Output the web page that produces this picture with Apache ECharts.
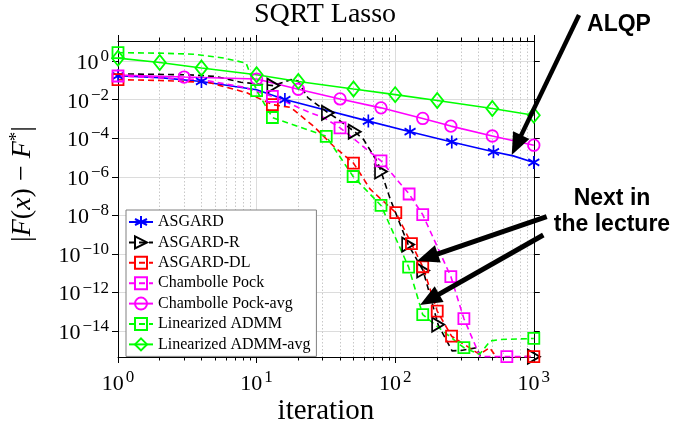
<!DOCTYPE html>
<html>
<head>
<meta charset="utf-8">
<script src="https://cdn.jsdelivr.net/npm/echarts@6/dist/echarts.min.js"></script>
<style>html,body{margin:0;padding:0;background:#fff}#c{width:674px;height:431px}</style>
</head>
<body>
<div id="c"></div>
<script>
// ---------- data ----------
const xRange = [1, 1000];
const yRange = [4.6e-16, 11.1];
const xMinorTicks = [2,3,4,5,6,7,8,9,20,30,40,50,60,70,80,90,200,300,400,500,600,700,800,900];
const yLabelExps = [-14,-12,-10,-8,-6,-4,-2,0];
const seriesNames = ['ASGARD','ASGARD-R','ASGARD-DL','Chambolle Pock','Chambolle Pock-avg','Linearized ADMM','Linearized ADMM-avg'];

// marker points and extra curve points for each method: [iteration, |F(x)-F*|]
const asgardMarks = [[1,0.175],[4,0.089],[16,0.0102],[64,7.8e-4],[128,2.2e-4],[256,6.5e-5],[512,2e-5],[1000,5.6e-6]];
const asgardLine  = [[2,0.14],[10,0.033],[710,1.23e-5]];

const asgardRMarks = [[13.2,0.054],[32.7,2.1e-3],[51,2.2e-4],[79,1.9e-6],[124,3.1e-10],[159,1.4e-11],[204,2.2e-14],[1000,4.8e-16]];
const asgardRLine  = [[1,0.22],[3.2,0.197],[5.1,0.16],[7.7,0.081],[17.6,0.11],[19.8,0.097],[23.4,0.013],[37,1.2e-3],[59,8.9e-5],[74.6,5.9e-6],[92,7.2e-8],[257,9.6e-16],[300,1e-15],[388,1.4e-15],[450,1e-16],[950,1e-16]];

const asgardDLMarks = [[1,0.11],[13,5.6e-3],[50,5.2e-6],[101,1.4e-8],[131,3.5e-10],[158,2.2e-11],[201,1.1e-13],[255,5.5e-15],[1000,4.8e-16]];
const asgardDLLine  = [[2,0.1],[4.5,0.079],[8.5,0.023],[17.6,4e-3],[25.8,4.2e-4],[35.8,4e-5],[66,2.3e-7],[406,6.3e-16],[480,1.4e-15],[560,3e-16],[850,4.8e-16]];

const cpMarks = [[1,0.17],[13,0.015],[40,3.5e-4],[79,6.8e-6],[126,1.3e-7],[158,1.1e-8],[252,6.8e-12],[313,4.5e-14],[639,4.8e-16]];
const cpLine  = [[4,0.11],[8,0.045],[18,5.6e-3],[24,2.2e-3],[30.5,1.2e-3],[410,4.8e-16],[1000,4.8e-16]];

const cpAvgMarks = [[3,0.15],[10,0.118],[20,0.035],[40,0.011],[79,3.8e-3],[158,1.07e-3],[252,4.3e-4],[502,1.32e-4],[1000,4.4e-5]];
const cpAvgLine  = [[1,0.19]];

const ladmmMarks = [[1,2.77],[10,0.030],[13,1.2e-3],[31.8,1.27e-4],[49.7,1.05e-6],[79,3.3e-8],[125,2.1e-11],[158,7.2e-14],[313,1.4e-15],[1000,4.2e-15]];
const ladmmLine  = [[2,2.6],[3.5,2.3],[5.8,1.45],[8.4,0.79],[406,6.3e-16],[484,3.1e-15],[571,3.7e-15]];

const ladmmAvgMarks = [[1,1.43],[2,0.85],[4,0.44],[10,0.197],[20,0.089],[50,0.036],[100,0.0184],[201,9.1e-3],[502,3.5e-3],[1000,1.58e-3]];
const ladmmAvgLine  = [];

// ---------- styling ----------
const serif = "'Liberation Serif','Times New Roman',serif";
const sans = "'Liberation Sans',Arial,sans-serif";
const SYM = {
  asterisk: 'path://M0,-10L0,10M-8.66,-5L8.66,5M-8.66,5L8.66,-5',
  triRight: 'path://M0,0L10,6L0,12Z'
};

function build(name, color, dashed, symbol, size, marks, line) {
  const pts = marks.map(p => ({p, m: true})).concat(line.map(p => ({p, m: false})));
  pts.sort((a, b) => a.p[0] - b.p[0]);
  return {
    type: 'line', name,
    data: pts.map(o => o.m ? {value: o.p} : {value: o.p, symbol: 'none'}),
    symbol, symbolSize: size, showAllSymbol: true, clip: true,
    lineStyle: {color, width: 1.6, type: dashed ? [6, 4] : 'solid'},
    itemStyle: {color: 'rgba(255,255,255,0)', borderColor: color, borderWidth: 1.8},
    emphasis: {disabled: true}, silent: true, animation: false
  };
}

const series = [
  build(seriesNames[0], '#0000ff', false, SYM.asterisk, [11, 13], asgardMarks, asgardLine),
  build(seriesNames[1], '#000000', true, SYM.triRight, [12, 14], asgardRMarks, asgardRLine),
  build(seriesNames[2], '#ff0000', true, 'rect', 11, asgardDLMarks, asgardDLLine),
  build(seriesNames[3], '#ff00ff', true, 'rect', 11, cpMarks, cpLine),
  build(seriesNames[4], '#ff00ff', false, 'circle', 11.5, cpAvgMarks, cpAvgLine),
  build(seriesNames[5], '#00ff00', true, 'rect', 11, ladmmMarks, ladmmLine),
  build(seriesNames[6], '#00ff00', false, 'diamond', [12, 15], ladmmAvgMarks, ladmmAvgLine)
];

const supRich = {
  b: {fontFamily: serif, fontSize: 22, color: '#000', lineHeight: 26, verticalAlign: 'bottom'},
  s: {fontFamily: serif, fontSize: 17, color: '#000', verticalAlign: 'bottom', padding: [0, 0, 9, 2]}
};
const expText = e => '{b|10}{s|' + (e < 0 ? '\u2212' + (-e) : e) + '}';
const lx = [Math.log10(xRange[0]), Math.log10(xRange[1])];
const ly = [Math.log10(yRange[0]), Math.log10(yRange[1])];
const minorLog = xMinorTicks.map(v => Math.log10(v));
const lineBlack = {show: true, onZero: false, lineStyle: {color: '#000', width: 1}};

function arrow(x1, y1, x2, y2, w, hl, hw) {
  const dx = x2 - x1, dy = y2 - y1, L = Math.hypot(dx, dy), ux = dx / L, uy = dy / L;
  const bx = x2 - ux * hl, by = y2 - uy * hl, px = -uy, py = ux;
  return [
    {type: 'line', z: 100, shape: {x1, y1, x2: bx + ux * 3, y2: by + uy * 3}, style: {stroke: '#000', lineWidth: w}},
    {type: 'polygon', z: 100, shape: {points: [[x2, y2], [bx + px * hw, by + py * hw], [bx - px * hw, by - py * hw]]}, style: {fill: '#000'}}
  ];
}

const chart = echarts.init(document.getElementById('c'), null, {renderer: 'canvas'});
chart.setOption({
  animation: false,
  backgroundColor: '#fff',
  title: {
    text: 'SQRT Lasso', left: 325, top: 1, textAlign: 'center', padding: 0,
    textStyle: {fontFamily: serif, fontSize: 28, fontWeight: 'normal', color: '#000'}
  },
  grid: {left: 116.6, top: 41, width: 417.2, height: 318.3, show: false},
  legend: {
    orient: 'vertical', left: 126, top: 210, itemWidth: 24, itemHeight: 15, itemGap: 4.4,
    padding: [4, 6, 4, 2], backgroundColor: '#fff', borderColor: '#808080', borderWidth: 1,
    selectedMode: false, data: seriesNames,
    textStyle: {fontFamily: serif, fontSize: 16, color: '#000', lineHeight: 15}
  },
  xAxis: [
    { type: 'log', logBase: 10, min: xRange[0], max: xRange[1], position: 'bottom',
      name: 'iteration', nameLocation: 'middle', nameGap: 40, nameMoveOverlap: false,
      nameTextStyle: {fontFamily: serif, fontSize: 29, color: '#000'},
      axisLine: lineBlack, axisTick: {show: true, inside: false, length: 6, lineStyle: {color: '#000'}},
      axisLabel: {margin: 12, formatter: v => expText(Math.round(Math.log10(v))), rich: supRich},
      splitLine: {show: true, lineStyle: {color: '#dcdcdc', width: 1}}, minorTick: {show: false}, minorSplitLine: {show: false} },
    { type: 'log', logBase: 10, min: xRange[0], max: xRange[1], position: 'top',
      axisLine: lineBlack, axisTick: {show: true, inside: false, length: 6, lineStyle: {color: '#000'}},
      axisLabel: {show: false}, splitLine: {show: false} },
    { type: 'value', min: lx[0], max: lx[1], position: 'bottom',
      axisLine: {show: false, onZero: false},
      axisTick: {show: true, inside: false, length: 3.5, customValues: minorLog, lineStyle: {color: '#000'}},
      axisLabel: {show: false, customValues: minorLog},
      splitLine: {show: true, lineStyle: {color: '#c8c8c8', width: 1, type: [1.5, 2]}} },
    { type: 'value', min: lx[0], max: lx[1], position: 'top',
      axisLine: {show: false, onZero: false},
      axisTick: {show: true, inside: false, length: 3.5, customValues: minorLog, lineStyle: {color: '#000'}},
      axisLabel: {show: false, customValues: minorLog}, splitLine: {show: false} }
  ],
  yAxis: [
    { type: 'log', logBase: 10, min: yRange[0], max: yRange[1], show: false },
    { type: 'value', min: ly[0], max: ly[1], position: 'left',
      name: '{t||}{i|F}{t|(}{i|x}{t|) \u2212 }{i|F}{s|*}{t||}', nameLocation: 'middle', nameGap: 80,
      nameRotate: 90, nameMoveOverlap: false,
      nameTextStyle: {padding: [0, 0, 0, 30], rich: {
        t: {fontFamily: serif, fontSize: 28, color: '#000'},
        i: {fontFamily: serif, fontSize: 28, fontStyle: 'italic', color: '#000'},
        s: {fontFamily: serif, fontSize: 19, color: '#000', verticalAlign: 'bottom', padding: [0, 0, 11, 0]}
      }},
      axisLine: lineBlack,
      axisTick: {show: true, inside: false, length: 6, customValues: yLabelExps, lineStyle: {color: '#000'}},
      axisLabel: {margin: 9, customValues: yLabelExps, formatter: v => expText(Math.round(v)), rich: supRich},
      splitLine: {show: true, lineStyle: {color: '#dcdcdc', width: 1}} },
    { type: 'value', min: ly[0], max: ly[1], position: 'right',
      axisLine: lineBlack,
      axisTick: {show: true, inside: false, length: 6, customValues: yLabelExps, lineStyle: {color: '#000'}},
      axisLabel: {show: false, customValues: yLabelExps}, splitLine: {show: false} }
  ],
  series: series,
  graphic: [
    {type: 'text', z: 100, x: 619, y: 11.7, style: {text: 'ALQP', fontFamily: sans, fontWeight: 'bold', fontSize: 23, lineHeight: 26, fill: '#000', align: 'center', verticalAlign: 'top'}},
    {type: 'text', z: 100, x: 612, y: 186, style: {text: 'Next in\nthe lecture', fontFamily: sans, fontWeight: 'bold', fontSize: 23, lineHeight: 26, fill: '#000', align: 'center', verticalAlign: 'top'}}
  ].concat(arrow(579, 15, 511.7, 155, 4.5, 22, 9))
   .concat(arrow(546.7, 216.7, 417, 261, 5, 22, 9))
   .concat(arrow(543.3, 235, 420, 305, 5, 22, 9))
});
</script>
</body>
</html>
